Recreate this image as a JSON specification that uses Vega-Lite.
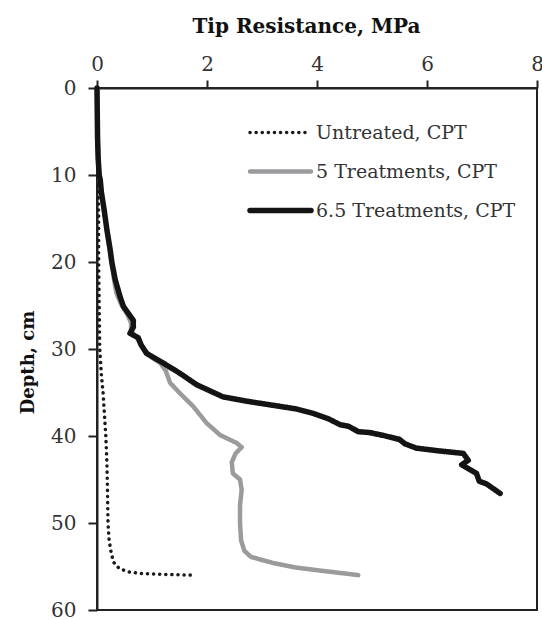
{
  "$schema": "https://vega.github.io/schema/vega-lite/v6.json",
  "width": 440,
  "height": 522,
  "autosize": {"type": "none"},
  "padding": {"left": 97, "top": 88, "right": 5, "bottom": 9},
  "background": "white",
  "config": {
    "view": {"stroke": "#222", "strokeWidth": 2},
    "font": "DejaVu Serif",
    "axis": {
      "grid": false,
      "domainColor": "#222",
      "domainWidth": 2,
      "tickColor": "#222",
      "tickWidth": 2,
      "labelFont": "DejaVu Serif",
      "labelFontSize": 20,
      "labelColor": "#333",
      "labelFlush": false,
      "titleFont": "DejaVu Serif",
      "titleFontWeight": "bold",
      "titleColor": "#111"
    },
    "legend": {
      "title": null,
      "orient": "none",
      "legendX": 150,
      "legendY": 25,
      "padding": 0,
      "symbolType": "stroke",
      "symbolSize": 3721,
      "labelFont": "DejaVu Serif",
      "labelFontSize": 19,
      "labelColor": "#333",
      "labelOffset": 2,
      "rowPadding": 0,
      "clipHeight": 39,
      "labelLimit": 300
    }
  },
  "data": {
    "values": [
      {"series": "Untreated, CPT", "depth": 0, "mpa": 0},
      {"series": "Untreated, CPT", "depth": 5, "mpa": 0.01},
      {"series": "Untreated, CPT", "depth": 10, "mpa": 0.02},
      {"series": "Untreated, CPT", "depth": 15, "mpa": 0.03},
      {"series": "Untreated, CPT", "depth": 20, "mpa": 0.03},
      {"series": "Untreated, CPT", "depth": 25, "mpa": 0.04},
      {"series": "Untreated, CPT", "depth": 30, "mpa": 0.05},
      {"series": "Untreated, CPT", "depth": 33, "mpa": 0.08},
      {"series": "Untreated, CPT", "depth": 35, "mpa": 0.11},
      {"series": "Untreated, CPT", "depth": 38, "mpa": 0.14},
      {"series": "Untreated, CPT", "depth": 40, "mpa": 0.16},
      {"series": "Untreated, CPT", "depth": 43, "mpa": 0.18},
      {"series": "Untreated, CPT", "depth": 46, "mpa": 0.19},
      {"series": "Untreated, CPT", "depth": 50, "mpa": 0.2},
      {"series": "Untreated, CPT", "depth": 52, "mpa": 0.22},
      {"series": "Untreated, CPT", "depth": 53.5, "mpa": 0.26},
      {"series": "Untreated, CPT", "depth": 54.5, "mpa": 0.3},
      {"series": "Untreated, CPT", "depth": 55.2, "mpa": 0.4},
      {"series": "Untreated, CPT", "depth": 55.6, "mpa": 0.55},
      {"series": "Untreated, CPT", "depth": 55.8, "mpa": 0.8},
      {"series": "Untreated, CPT", "depth": 55.9, "mpa": 1.2},
      {"series": "Untreated, CPT", "depth": 56, "mpa": 1.75},

      {"series": "5 Treatments, CPT", "depth": 0, "mpa": 0},
      {"series": "5 Treatments, CPT", "depth": 5.6, "mpa": 0.01},
      {"series": "5 Treatments, CPT", "depth": 10, "mpa": 0.04},
      {"series": "5 Treatments, CPT", "depth": 12, "mpa": 0.08},
      {"series": "5 Treatments, CPT", "depth": 16.3, "mpa": 0.18},
      {"series": "5 Treatments, CPT", "depth": 20, "mpa": 0.26},
      {"series": "5 Treatments, CPT", "depth": 22, "mpa": 0.31},
      {"series": "5 Treatments, CPT", "depth": 23.5, "mpa": 0.35},
      {"series": "5 Treatments, CPT", "depth": 24, "mpa": 0.38},
      {"series": "5 Treatments, CPT", "depth": 25, "mpa": 0.45},
      {"series": "5 Treatments, CPT", "depth": 26, "mpa": 0.55},
      {"series": "5 Treatments, CPT", "depth": 27, "mpa": 0.62},
      {"series": "5 Treatments, CPT", "depth": 28, "mpa": 0.62},
      {"series": "5 Treatments, CPT", "depth": 28.7, "mpa": 0.72},
      {"series": "5 Treatments, CPT", "depth": 30, "mpa": 0.85},
      {"series": "5 Treatments, CPT", "depth": 31, "mpa": 1.0},
      {"series": "5 Treatments, CPT", "depth": 31.6, "mpa": 1.15},
      {"series": "5 Treatments, CPT", "depth": 32.5, "mpa": 1.25},
      {"series": "5 Treatments, CPT", "depth": 33.9, "mpa": 1.33},
      {"series": "5 Treatments, CPT", "depth": 35.1, "mpa": 1.51},
      {"series": "5 Treatments, CPT", "depth": 36.6, "mpa": 1.75},
      {"series": "5 Treatments, CPT", "depth": 38.5, "mpa": 1.99},
      {"series": "5 Treatments, CPT", "depth": 39.9, "mpa": 2.24},
      {"series": "5 Treatments, CPT", "depth": 40.8, "mpa": 2.54},
      {"series": "5 Treatments, CPT", "depth": 41.3, "mpa": 2.63},
      {"series": "5 Treatments, CPT", "depth": 42, "mpa": 2.52},
      {"series": "5 Treatments, CPT", "depth": 43, "mpa": 2.45},
      {"series": "5 Treatments, CPT", "depth": 44.3, "mpa": 2.47},
      {"series": "5 Treatments, CPT", "depth": 45, "mpa": 2.6},
      {"series": "5 Treatments, CPT", "depth": 46.2, "mpa": 2.63},
      {"series": "5 Treatments, CPT", "depth": 48, "mpa": 2.6},
      {"series": "5 Treatments, CPT", "depth": 50, "mpa": 2.6},
      {"series": "5 Treatments, CPT", "depth": 52, "mpa": 2.62},
      {"series": "5 Treatments, CPT", "depth": 53.2, "mpa": 2.68},
      {"series": "5 Treatments, CPT", "depth": 53.9, "mpa": 2.8},
      {"series": "5 Treatments, CPT", "depth": 54.6, "mpa": 3.2},
      {"series": "5 Treatments, CPT", "depth": 55.1, "mpa": 3.6},
      {"series": "5 Treatments, CPT", "depth": 55.5, "mpa": 4.1},
      {"series": "5 Treatments, CPT", "depth": 55.8, "mpa": 4.5},
      {"series": "5 Treatments, CPT", "depth": 56, "mpa": 4.75},

      {"series": "6.5 Treatments, CPT", "depth": 0, "mpa": 0},
      {"series": "6.5 Treatments, CPT", "depth": 3, "mpa": 0.005},
      {"series": "6.5 Treatments, CPT", "depth": 5.6, "mpa": 0.01},
      {"series": "6.5 Treatments, CPT", "depth": 8, "mpa": 0.02},
      {"series": "6.5 Treatments, CPT", "depth": 10, "mpa": 0.04},
      {"series": "6.5 Treatments, CPT", "depth": 10.6, "mpa": 0.06},
      {"series": "6.5 Treatments, CPT", "depth": 12, "mpa": 0.08},
      {"series": "6.5 Treatments, CPT", "depth": 14, "mpa": 0.13},
      {"series": "6.5 Treatments, CPT", "depth": 16.3, "mpa": 0.18},
      {"series": "6.5 Treatments, CPT", "depth": 18.6, "mpa": 0.24},
      {"series": "6.5 Treatments, CPT", "depth": 20, "mpa": 0.27},
      {"series": "6.5 Treatments, CPT", "depth": 22, "mpa": 0.33},
      {"series": "6.5 Treatments, CPT", "depth": 24, "mpa": 0.42},
      {"series": "6.5 Treatments, CPT", "depth": 25.1, "mpa": 0.48},
      {"series": "6.5 Treatments, CPT", "depth": 26, "mpa": 0.58},
      {"series": "6.5 Treatments, CPT", "depth": 26.7, "mpa": 0.66},
      {"series": "6.5 Treatments, CPT", "depth": 27.5, "mpa": 0.66},
      {"series": "6.5 Treatments, CPT", "depth": 28.2, "mpa": 0.6},
      {"series": "6.5 Treatments, CPT", "depth": 28.7, "mpa": 0.75},
      {"series": "6.5 Treatments, CPT", "depth": 29.5, "mpa": 0.8},
      {"series": "6.5 Treatments, CPT", "depth": 30.5, "mpa": 0.9},
      {"series": "6.5 Treatments, CPT", "depth": 31.6, "mpa": 1.2},
      {"series": "6.5 Treatments, CPT", "depth": 32.8, "mpa": 1.51},
      {"series": "6.5 Treatments, CPT", "depth": 34.1, "mpa": 1.81},
      {"series": "6.5 Treatments, CPT", "depth": 35.5, "mpa": 2.29},
      {"series": "6.5 Treatments, CPT", "depth": 36.0, "mpa": 2.72},
      {"series": "6.5 Treatments, CPT", "depth": 36.6, "mpa": 3.33},
      {"series": "6.5 Treatments, CPT", "depth": 36.9, "mpa": 3.63},
      {"series": "6.5 Treatments, CPT", "depth": 37.4, "mpa": 3.93},
      {"series": "6.5 Treatments, CPT", "depth": 38.0, "mpa": 4.2},
      {"series": "6.5 Treatments, CPT", "depth": 38.7, "mpa": 4.42},
      {"series": "6.5 Treatments, CPT", "depth": 38.9, "mpa": 4.58},
      {"series": "6.5 Treatments, CPT", "depth": 39.5, "mpa": 4.75},
      {"series": "6.5 Treatments, CPT", "depth": 39.6, "mpa": 4.95},
      {"series": "6.5 Treatments, CPT", "depth": 40.0, "mpa": 5.25},
      {"series": "6.5 Treatments, CPT", "depth": 40.4, "mpa": 5.5},
      {"series": "6.5 Treatments, CPT", "depth": 40.9, "mpa": 5.6},
      {"series": "6.5 Treatments, CPT", "depth": 41.4, "mpa": 5.81},
      {"series": "6.5 Treatments, CPT", "depth": 41.7, "mpa": 6.2},
      {"series": "6.5 Treatments, CPT", "depth": 42.0, "mpa": 6.66},
      {"series": "6.5 Treatments, CPT", "depth": 42.8, "mpa": 6.75},
      {"series": "6.5 Treatments, CPT", "depth": 43.3, "mpa": 6.63},
      {"series": "6.5 Treatments, CPT", "depth": 44.3, "mpa": 6.9},
      {"series": "6.5 Treatments, CPT", "depth": 45.2, "mpa": 6.95},
      {"series": "6.5 Treatments, CPT", "depth": 45.5, "mpa": 7.08},
      {"series": "6.5 Treatments, CPT", "depth": 46.6, "mpa": 7.33}
    ]
  },
  "mark": {"type": "line", "strokeCap": "round", "strokeJoin": "round"},
  "encoding": {
    "x": {
      "field": "mpa",
      "type": "quantitative",
      "scale": {"domain": [0, 8], "nice": false},
      "axis": {
        "orient": "top",
        "values": [0, 2, 4, 6, 8],
        "title": "Tip Resistance, MPa",
        "tickSize": 8,
        "labelPadding": 6,
        "titleFontSize": 20,
        "titleX": 209,
        "titleY": -56,
        "titleBaseline": "alphabetic",
        "titleAlign": "center"
      }
    },
    "y": {
      "field": "depth",
      "type": "quantitative",
      "scale": {"domain": [0, 60], "reverse": true, "nice": false},
      "axis": {
        "values": [0, 10, 20, 30, 40, 50, 60],
        "title": "Depth, cm",
        "tickSize": 9,
        "labelPadding": 12,
        "titleFontSize": 18,
        "titleAngle": -90,
        "titleX": -64,
        "titleY": 274,
        "titleBaseline": "alphabetic",
        "titleAlign": "center"
      }
    },
    "color": {
      "field": "series",
      "type": "nominal",
      "scale": {
        "domain": ["Untreated, CPT", "5 Treatments, CPT", "6.5 Treatments, CPT"],
        "range": ["#1a1a1a", "#9b9b9e", "#141414"]
      },
      "legend": {
        "encode": {"symbols": {"update": {"strokeCap": {"value": "round"}}}}
      }
    },
    "strokeDash": {
      "field": "series",
      "type": "nominal",
      "scale": {
        "domain": ["Untreated, CPT", "5 Treatments, CPT", "6.5 Treatments, CPT"],
        "range": [[0.1, 6], [1, 0], [1, 0]]
      },
      "legend": {
        "encode": {"symbols": {"update": {"strokeCap": {"value": "round"}}}}
      }
    },
    "strokeWidth": {
      "field": "series",
      "type": "nominal",
      "scale": {
        "domain": ["Untreated, CPT", "5 Treatments, CPT", "6.5 Treatments, CPT"],
        "range": [3.5, 5.5, 6.5]
      },
      "legend": {
        "encode": {"symbols": {"update": {"strokeCap": {"value": "round"}}}}
      }
    },
    "order": {"field": "depth", "type": "quantitative"}
  }
}
